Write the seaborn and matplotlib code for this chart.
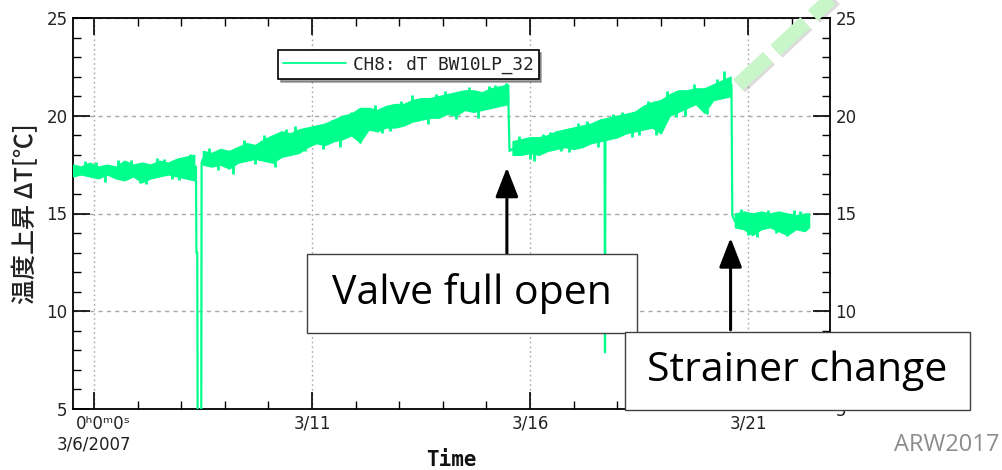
import numpy as np
import pandas as pd
import matplotlib
matplotlib.use("Agg")
import matplotlib.pyplot as plt
import matplotlib.patheffects as pe
from matplotlib.lines import Line2D
from matplotlib.patches import Rectangle
from matplotlib.ticker import MultipleLocator
import seaborn as sns

# ---------------- data (days since 3/6/2007 0h) ----------------
seg1_t = [-0.48, -0.3, -0.1, 0.1, 0.3, 0.5, 0.7, 0.9, 1.1, 1.3, 1.5, 1.7, 1.9, 2.1, 2.3]
seg1_hi = [17.5, 17.4, 17.6, 17.4, 17.5, 17.4, 17.7, 17.5, 17.6, 17.5, 17.7, 17.6, 17.8, 17.9, 18.0]
seg1_lo = [16.9, 17.0, 16.9, 16.8, 17.0, 16.8, 16.7, 16.9, 16.6, 16.8, 16.9, 17.0, 16.9, 16.8, 16.7]

seg2_t = [2.5, 2.7, 2.9, 3.1, 3.3, 3.5, 3.7, 3.9, 4.1, 4.3, 4.5, 4.7, 4.9, 5.1, 5.3, 5.5, 5.7, 5.9,
          6.1, 6.3, 6.5, 6.7, 6.9, 7.1, 7.3, 7.5, 7.7, 7.9, 8.1, 8.3, 8.5, 8.7, 8.9, 9.1, 9.3, 9.5]
seg2_hi = [18.2, 18.1, 18.3, 18.2, 18.4, 18.6, 18.5, 18.8, 19.0, 19.2, 19.1, 19.3, 19.4, 19.5, 19.6, 19.8, 20.0, 20.1,
           20.4, 20.4, 20.3, 20.5, 20.6, 20.6, 20.8, 20.9, 20.9, 21.0, 21.1, 21.2, 21.3, 21.3, 21.2, 21.4, 21.5, 21.6]
seg2_lo = [17.5, 17.4, 17.5, 17.3, 17.6, 17.7, 17.8, 17.7, 17.6, 17.9, 18.0, 18.1, 18.4, 18.6, 18.5, 18.7, 18.8, 19.0,
           18.65, 19.3, 19.2, 19.4, 19.4, 19.5, 19.7, 19.8, 19.9, 19.9, 20.1, 20.0, 20.3, 20.2, 20.3, 20.4, 20.5, 20.6]

seg3_t = [9.6, 9.8, 10.0, 10.2, 10.4, 10.6, 10.8, 11.0, 11.2, 11.4, 11.6, 11.8, 12.0, 12.2, 12.4, 12.6, 12.8,
          13.0, 13.2, 13.4, 13.6, 13.8, 14.0, 14.2, 14.4, 14.6]
seg3_hi = [18.7, 18.8, 18.9, 18.9, 19.0, 19.2, 19.3, 19.4, 19.5, 19.6, 19.8, 19.9, 20.0, 20.1, 20.2, 20.5, 20.7,
           20.8, 21.1, 21.3, 21.3, 21.4, 21.4, 21.6, 21.8, 22.0]
seg3_lo = [18.0, 18.0, 18.1, 18.0, 18.2, 18.3, 18.4, 18.3, 18.4, 18.6, 18.7, 18.8, 18.9, 19.1, 19.2, 19.3, 19.4,
           19.1, 20.0, 20.2, 20.4, 20.6, 20.15, 20.8, 20.9, 21.0]

seg4_t = [14.7, 14.9, 15.1, 15.3, 15.5, 15.7, 15.9, 16.1, 16.3, 16.4]
seg4_hi = [15.0, 15.1, 15.0, 15.1, 15.0, 15.1, 15.0, 14.9, 15.0, 15.0]
seg4_lo = [14.3, 14.2, 13.9, 14.2, 14.3, 14.1, 13.9, 14.2, 14.1, 14.3]

# transitions / drop-outs (time, value)
drop1_t = [2.30, 2.34, 2.35, 2.37, 2.38, 2.46, 2.47, 2.50]
drop1_v = [17.4, 17.4, 13.0, 13.0, 3.0, 3.0, 17.6, 17.8]
valve_t = [9.48, 9.50, 9.53, 9.60]
valve_v = [21.2, 21.2, 18.2, 18.3]
spike_t = [11.70, 11.71, 11.72, 11.73]
spike_v = [19.2, 19.2, 7.9, 19.2]
strainer_t = [14.58, 14.62, 14.64, 14.70]
strainer_v = [21.6, 21.6, 14.9, 14.6]

# short noise spikes sticking out of the band (time, tip value, base value)
tip_t = [-0.2, 0.05, 0.25, 0.55, 0.85, 1.05, 1.2, 1.45, 1.6, 1.8, 1.95, 2.2, 2.65, 2.85, 3.2, 3.45, 3.7, 3.9,
         4.15, 4.4, 4.6, 4.85, 5.25, 5.45, 5.65, 5.9, 6.1, 6.45, 6.6, 6.8, 7.05, 7.3, 7.65, 7.85, 8.05, 8.3,
         8.6, 8.8, 9.05, 9.2, 9.45, 9.75, 10.0, 10.1, 10.3, 10.45, 10.7, 10.9, 11.1, 11.3, 11.55, 11.9, 12.1,
         12.35, 12.5, 12.7, 12.9, 13.15, 13.35, 13.55, 13.75, 14.06, 14.3, 14.45, 14.85, 15.0, 15.2, 15.45,
         15.65, 15.9, 16.05, 16.2]
tip_v = [17.7, 17.65, 16.6, 17.75, 17.75, 16.55, 16.5, 17.85, 17.8, 16.75, 16.7, 18.05, 18.35, 17.25, 17.0, 18.75,
         17.55, 19.0, 17.4, 19.3, 19.5, 18.2, 18.3, 19.8, 18.4, 20.2, 18.6, 20.55, 19.1, 19.2, 20.75, 21.05,
         19.6, 21.1, 21.25, 19.85, 21.45, 19.9, 21.5, 21.55, 21.7, 18.95, 17.8, 17.7, 19.05, 19.15, 18.2,
         18.15, 19.65, 19.75, 18.4, 20.1, 20.2, 18.9, 19.0, 20.75, 19.0, 21.25, 19.95, 20.0, 21.6, 20.1,
         21.9, 22.3, 15.25, 13.9, 13.8, 15.2, 14.0, 13.85, 15.2, 15.15]
tip_base = [17.2, 17.2, 17.2, 17.2, 17.2, 17.2, 17.2, 17.2, 17.2, 17.3, 17.3, 17.4, 17.8, 17.8, 17.7, 18.2,
            18.1, 18.3, 18.1, 18.6, 18.7, 18.8, 19.0, 19.1, 19.2, 19.4, 19.6, 19.8, 19.8, 19.9, 20.0, 20.3,
            20.3, 20.4, 20.6, 20.5, 20.8, 20.7, 20.8, 20.9, 21.0, 18.4, 18.5, 18.5, 18.5, 18.6, 18.7, 18.8,
            18.9, 19.0, 19.2, 19.3, 19.5, 19.6, 19.7, 20.0, 20.0, 20.6, 20.7, 20.8, 21.0, 20.9, 21.2, 21.4,
            14.6, 14.6, 14.6, 14.6, 14.6, 14.6, 14.6, 14.6]

x_tick_days = [0, 5, 10, 15]
x_tick_labels = ["0ʰ0ᵐ0ˢ\n3/6/2007", "3/11", "3/16", "3/21"]
y_ticks = [5, 10, 15, 20, 25]
legend_label = "CH8: dT BW10LP_32"
GREEN = "#00ff8c"

# ---------------- figure ----------------
sns.set_theme(style="white")
plt.rcParams["font.family"] = ["DejaVu Sans", "Noto Sans CJK JP"]

W, H = 1003, 470
fig = plt.figure(figsize=(W / 100, H / 100), dpi=100)
fig.patch.set_facecolor("white")
fx = lambda px: px / W
fy = lambda py: 1 - py / H

ax = fig.add_axes([fx(73), fy(409), fx(830) - fx(73), fy(18) - fy(409)])
ax.set_facecolor("white")

for t, lo, hi in [(seg1_t, seg1_lo, seg1_hi), (seg2_t, seg2_lo, seg2_hi),
                  (seg3_t, seg3_lo, seg3_hi), (seg4_t, seg4_lo, seg4_hi)]:
    ax.fill_between(t, lo, hi, color=GREEN, lw=1.0, edgecolor=GREEN, zorder=3)

for t, v in [(drop1_t, drop1_v), (valve_t, valve_v), (spike_t, spike_v), (strainer_t, strainer_v)]:
    sns.lineplot(x=t, y=v, ax=ax, color=GREEN, lw=1.6, sort=False, estimator=None, zorder=3)
ax.vlines(tip_t, tip_base, tip_v, color=GREEN, lw=2.0, zorder=3)

ax.set_xlim(-0.48, 16.88)
ax.set_ylim(5, 25)

ax.set_xticks(x_tick_days)
ax.set_xticklabels(x_tick_labels)
ax.xaxis.set_minor_locator(MultipleLocator(1))
ax.set_yticks(y_ticks)
ax.yaxis.set_minor_locator(MultipleLocator(1))

for side in ["left", "right", "top", "bottom"]:
    ax.spines[side].set_visible(True)
    ax.spines[side].set_color("black")
    ax.spines[side].set_linewidth(1.3)

ax.tick_params(which="major", direction="in", length=12, width=1.2, color="black",
               top=True, right=True, bottom=True, left=True, labelright=True,
               labelsize=12, labelcolor="#222222", pad=4)
ax.tick_params(which="minor", direction="in", length=6, width=1.0, color="black",
               top=True, right=True, bottom=True, left=True)
first = ax.get_xticklabels()[0]
first.set_multialignment("right")
first.set_horizontalalignment("center")

ax.xaxis.grid(True, which="major", color="#a8a8a8", ls=(0, (1.2, 2.2)), lw=1.0)
ax.yaxis.grid(True, which="major", color="#a8a8a8", ls=(0, (3, 3)), lw=1.0)
ax.set_axisbelow(True)

ax.set_ylabel("温度上昇 ΔT[℃]", fontsize=18, family=["Noto Sans CJK JP", "DejaVu Sans"],
              fontweight="medium", color="#222222")
ax.yaxis.set_label_coords(-0.045, 0.5)
ax.set_xlabel("Time", fontsize=15, family="DejaVu Sans Mono", fontweight="bold", color="#111111")
ax.xaxis.set_label_coords(0.5, -0.105)

# legend
handle = Line2D([0], [0], color=GREEN, lw=1.3)
leg = ax.legend([handle], [legend_label], loc="upper left",
                bbox_to_anchor=(fx(278), fy(50)), bbox_transform=fig.transFigure,
                frameon=True, fancybox=False, shadow=True, borderaxespad=0,
                prop={"family": "DejaVu Sans Mono", "size": 12.8},
                handlelength=3.5, handletextpad=0.4, borderpad=0.3)
leg.get_frame().set_edgecolor("black")
leg.get_frame().set_linewidth(1.2)
for txt in leg.get_texts():
    txt.set_color("#222222")

# arrows
ax.annotate("", xy=(9.47, 17.35), xytext=(9.47, 12.85),
            arrowprops=dict(arrowstyle="-|>,head_length=0.9,head_width=0.35",
                            color="black", lw=2.2, mutation_scale=20, shrinkA=0, shrinkB=0), zorder=6)
ax.annotate("", xy=(14.6, 13.75), xytext=(14.6, 9.05),
            arrowprops=dict(arrowstyle="-|>,head_length=0.9,head_width=0.35",
                            color="black", lw=2.2, mutation_scale=20, shrinkA=0, shrinkB=0), zorder=6)

# text boxes
def box(x0, y0, x1, y1, text, size):
    fig.patches.append(Rectangle((fx(x0), fy(y1)), fx(x1) - fx(x0), fy(y0) - fy(y1),
                                 transform=fig.transFigure, facecolor="white",
                                 edgecolor="#404040", lw=1.0, zorder=5))
    fig.text(fx((x0 + x1) / 2), fy((y0 + y1) / 2), text, ha="center", va="center",
             fontsize=size, family="Open Sans", color="black", zorder=6)

box(307, 254, 637, 333, "Valve full open", 29.5)
box(625, 332, 970, 410, "Strainer change", 29.5)

fig.text(fx(1000), fy(451), "ARW2017", ha="right", va="baseline", fontsize=17,
         family="Open Sans", color="#8c8c8c")

# light-green dashed overlay line
ln = Line2D([fx(738), fx(836)], [fy(85), fy(-6)], transform=fig.transFigure,
            color="#c9f6c9", lw=10.5, ls=(0, (2.8, 0.7)), solid_capstyle="butt",
            dash_capstyle="butt", zorder=7,
            path_effects=[pe.SimpleLineShadow(offset=(1.5, -1.5), alpha=0.15), pe.Normal()])
fig.lines.append(ln)

fig.savefig("out.png", dpi=100, facecolor="white")
